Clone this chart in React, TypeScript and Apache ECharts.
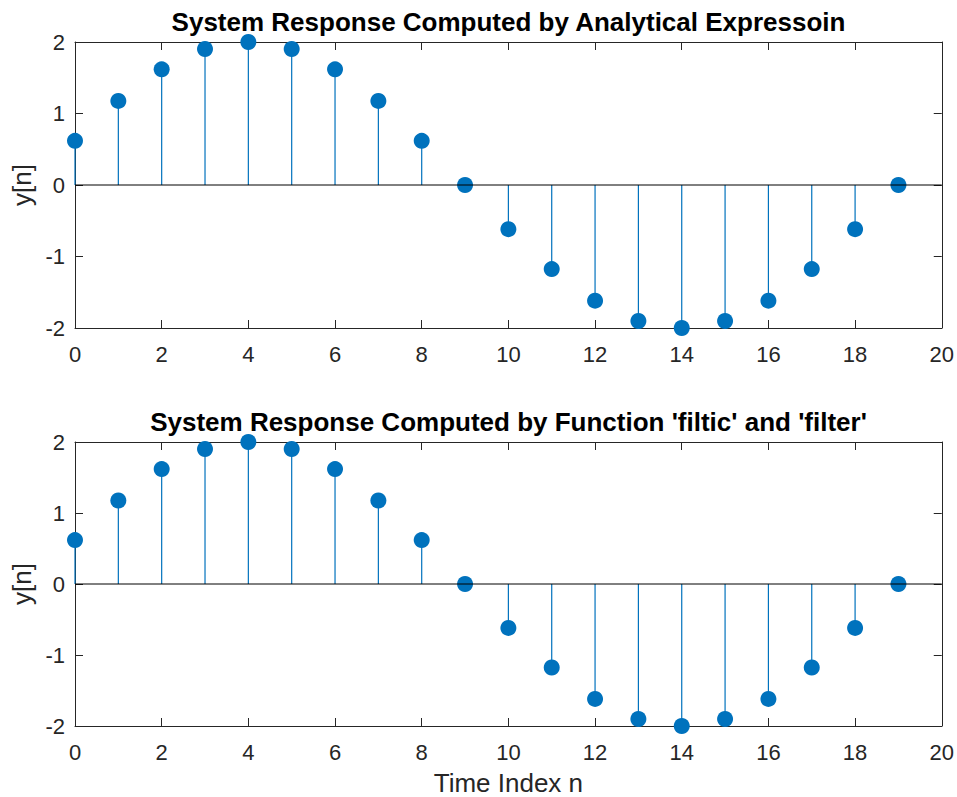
import React, { useEffect, useRef } from "react";
import * as echarts from "echarts";

// Sample index n and the two computed responses y[n]
const sampleIndex = [0, 1, 2, 3, 4, 5, 6, 7, 8, 9, 10, 11, 12, 13, 14, 15, 16, 17, 18, 19];
const analyticResponse = [
  0.618, 1.176, 1.618, 1.902, 2.0, 1.902, 1.618, 1.176, 0.618, 0.0,
  -0.618, -1.176, -1.618, -1.902, -2.0, -1.902, -1.618, -1.176, -0.618, 0.0,
];
const filterResponse = [
  0.618, 1.176, 1.618, 1.902, 2.0, 1.902, 1.618, 1.176, 0.618, 0.0,
  -0.618, -1.176, -1.618, -1.902, -2.0, -1.902, -1.618, -1.176, -0.618, 0.0,
];
const titles = [
  "System Response Computed by Analytical Expressoin",
  "System Response Computed by Function 'filtic' and 'filter'",
];
const xTicks = { min: 0, max: 20, interval: 2 };
const yTicks = { min: -2, max: 2, interval: 1 };

const STEM = "#0072BD";
const AXIS = "#262626";
const FONT = "'Liberation Sans', Arial, Helvetica, sans-serif";

const grids = [
  { left: 75, top: 42, width: 867, height: 286 },
  { left: 75, top: 442, width: 867, height: 285 },
];

export default function App() {
  const ref = useRef<HTMLDivElement>(null);

  useEffect(() => {
    if (!ref.current) return;
    const chart = echarts.init(ref.current, undefined, { renderer: "svg" });

    const responses = [analyticResponse, filterResponse];
    const xAxes: any[] = [];
    const yAxes: any[] = [];
    const series: any[] = [];

    grids.forEach((g, i) => {
      // bottom x axis with labels
      xAxes.push({
        type: "value",
        gridIndex: i,
        position: "bottom",
        ...xTicks,
        axisLine: { show: true, onZero: false, lineStyle: { color: AXIS, width: 1 } },
        axisTick: { show: true, inside: true, length: 8, lineStyle: { color: AXIS } },
        axisLabel: { color: AXIS, fontSize: 22, fontFamily: FONT, margin: 15 },
        splitLine: { show: false },
        name: i === 1 ? "Time Index n" : "",
        nameLocation: "middle",
        nameGap: 44,
        nameTextStyle: { color: AXIS, fontSize: 26, fontFamily: FONT },
      });
      // top x axis: ticks only
      xAxes.push({
        type: "value",
        gridIndex: i,
        position: "top",
        ...xTicks,
        axisLine: { show: true, onZero: false, lineStyle: { color: AXIS, width: 1 } },
        axisTick: { show: true, inside: true, length: 8, lineStyle: { color: AXIS } },
        axisLabel: { show: false },
        splitLine: { show: false },
      });
      yAxes.push({
        type: "value",
        gridIndex: i,
        position: "left",
        ...yTicks,
        axisLine: { show: true, onZero: false, lineStyle: { color: AXIS, width: 1 } },
        axisTick: { show: true, inside: true, length: 8, lineStyle: { color: AXIS } },
        axisLabel: { color: AXIS, fontSize: 22, fontFamily: FONT, margin: 10, padding: [7, 0, 0, 0] },
        splitLine: { show: false },
        name: "y[n]",
        nameLocation: "middle",
        nameGap: 37,
        nameTextStyle: { color: AXIS, fontSize: 26, fontFamily: FONT },
      });
      yAxes.push({
        type: "value",
        gridIndex: i,
        position: "right",
        ...yTicks,
        axisLine: { show: true, onZero: false, lineStyle: { color: AXIS, width: 1 } },
        axisTick: { show: true, inside: true, length: 8, lineStyle: { color: AXIS } },
        axisLabel: { show: false },
        splitLine: { show: false },
      });

      const data = sampleIndex.map((n, k) => [n, responses[i][k]]);
      const xi = i * 2;
      const yi = i * 2;

      // stems from the baseline to each sample
      series.push({
        type: "custom",
        xAxisIndex: xi,
        yAxisIndex: yi,
        data,
        encode: { x: 0, y: 1 },
        renderItem: (_params: any, api: any) => {
          const x = api.value(0);
          const y = api.value(1);
          const p0 = api.coord([x, 0]);
          const p1 = api.coord([x, y]);
          return {
            type: "line",
            shape: { x1: p0[0], y1: p0[1], x2: p1[0], y2: p1[1] },
            style: { stroke: STEM, lineWidth: 1.2 },
          };
        },
        silent: true,
      });
      // baseline at y = 0
      series.push({
        type: "line",
        xAxisIndex: xi,
        yAxisIndex: yi,
        data: [
          [xTicks.min, 0],
          [xTicks.max, 0],
        ],
        symbol: "none",
        lineStyle: { color: "#000000", width: 1 },
        silent: true,
      });
      // filled sample markers
      series.push({
        type: "scatter",
        xAxisIndex: xi,
        yAxisIndex: yi,
        data,
        symbol: "circle",
        symbolSize: 16,
        itemStyle: { color: STEM, opacity: 1 },
        silent: true,
      });
    });

    chart.setOption({
      animation: false,
      backgroundColor: "#ffffff",
      title: titles.map((t, i) => ({
        text: t,
        left: grids[i].left + grids[i].width / 2,
        textAlign: "center",
        top: grids[i].top - 33,
        padding: 0,
        textStyle: { color: "#000000", fontSize: 26, fontWeight: "bold", fontFamily: FONT },
      })),
      grid: grids.map((g) => ({ ...g, show: false, containLabel: false })),
      xAxis: xAxes,
      yAxis: yAxes,
      series,
    });

    return () => chart.dispose();
  }, []);

  return <div ref={ref} style={{ width: 957, height: 797, position: "absolute", left: 0, top: 0 }} />;
}
